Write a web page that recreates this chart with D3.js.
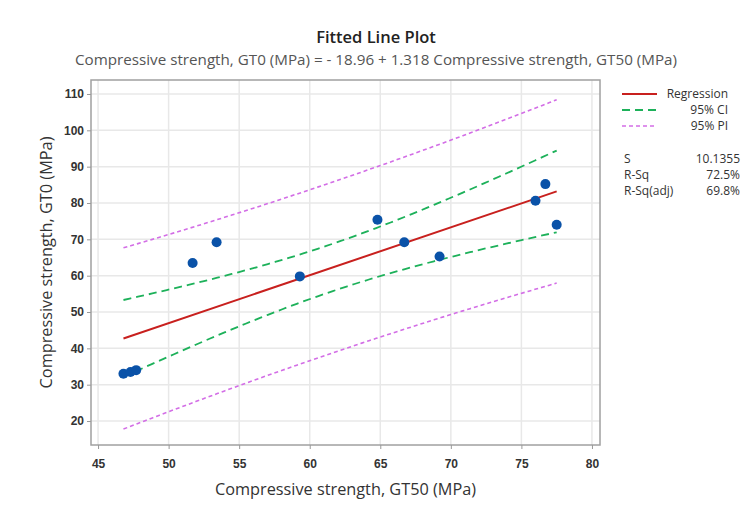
<!DOCTYPE html>
<meta charset="utf-8">
<style>
body { margin: 0; background: #fff; }
svg { font-family: "Open Sans", "Noto Sans", sans-serif; }
.grid line { stroke: #e8e8e8; stroke-width: 1.5px; }
.frame { fill: none; stroke: #a0a0a0; stroke-width: 1.5px; }
.tick text { fill: #333; font-size: 12px; font-weight: 600; }
.tick line { stroke: #999; }
.axis path { display: none; }
.title { font-size: 16.5px; font-weight: 600; fill: #222; }
.subtitle { font-size: 15.2px; fill: #555; }
.axlabel { font-size: 16.3px; fill: #333; }
.legend text { font-size: 12px; fill: #333; }
</style>
<body>
<script src="https://d3js.org/d3.v7.min.js"></script>
<script>

var width = 752,
    height = 507;

// data
var gt50 = [46.8, 47.3, 47.7, 51.7, 53.4, 59.3, 64.8, 66.7, 69.2, 76.0, 76.7, 77.5];
var gt0  = [33.0, 33.5, 34.0, 63.5, 69.2, 59.8, 75.4, 69.2, 65.3, 80.6, 85.2, 74.0];

var xTicks = [45, 50, 55, 60, 65, 70, 75, 80];
var yTicks = [20, 30, 40, 50, 60, 70, 80, 90, 100, 110];

// model values printed on the chart
var intercept = -18.96, slope = 1.318;
var statNames = ["S", "R-Sq", "R-Sq(adj)"];
var statValues = ["10.1355", "72.5%", "69.8%"];
var legendNames = ["Regression", "95% CI", "95% PI"];
var sErr = 10.1355, tCrit = 2.228;

var margin = {left: 91, right: 152, top: 80, bottom: 62};

var x = d3.scaleLinear().domain([44.5, 80.57]).range([margin.left, width - margin.right]);
var y = d3.scaleLinear().domain([13.4, 113.85]).range([height - margin.bottom, margin.top]);

var svg = d3.select("body").append("svg")
    .attr("width", width)
    .attr("height", height);

// grid
var grid = svg.append("g").attr("class", "grid");
grid.selectAll(".vx").data(xTicks).enter().append("line")
    .attr("x1", d => x(d)).attr("x2", d => x(d))
    .attr("y1", y.range()[1]).attr("y2", y.range()[0]);
grid.selectAll(".hy").data(yTicks).enter().append("line")
    .attr("y1", d => y(d)).attr("y2", d => y(d))
    .attr("x1", x.range()[0]).attr("x2", x.range()[1]);

svg.append("rect").attr("class", "frame")
    .attr("x", x.range()[0]).attr("y", y.range()[1])
    .attr("width", x.range()[1] - x.range()[0])
    .attr("height", y.range()[0] - y.range()[1]);

svg.append("g").attr("class", "axis")
    .attr("transform", "translate(0," + y.range()[0] + ")")
    .call(d3.axisBottom(x).tickValues(xTicks).tickSize(4).tickPadding(10));

svg.append("g").attr("class", "axis")
    .attr("transform", "translate(" + x.range()[0] + ",0)")
    .call(d3.axisLeft(y).tickValues(yTicks).tickSize(4).tickPadding(3));

// fit bands
var n = gt50.length,
    xbar = d3.mean(gt50),
    sxx = d3.sum(gt50, d => (d - xbar) * (d - xbar));
var xmin = d3.min(gt50), xmax = d3.max(gt50);
var xs = d3.range(0, 61).map(i => xmin + (xmax - xmin) * i / 60);
function fit(v) { return intercept + slope * v; }
function half(v, extra) { return tCrit * sErr * Math.sqrt(extra + 1 / n + (v - xbar) * (v - xbar) / sxx); }

var line = d3.line().x(d => x(d[0])).y(d => y(d[1]));

[[1, "#d36ee6", "4,3"], [-1, "#d36ee6", "4,3"]].forEach(function(b) {
  svg.append("path")
    .datum(xs.map(v => [v, fit(v) + b[0] * half(v, 1)]))
    .attr("d", line).attr("fill", "none")
    .attr("stroke", b[1]).attr("stroke-width", 1.6).attr("stroke-dasharray", b[2]);
});
[[1, "#1db15a", "8,5"], [-1, "#1db15a", "8,5"]].forEach(function(b) {
  svg.append("path")
    .datum(xs.map(v => [v, fit(v) + b[0] * half(v, 0)]))
    .attr("d", line).attr("fill", "none")
    .attr("stroke", b[1]).attr("stroke-width", 1.8).attr("stroke-dasharray", b[2]);
});

svg.append("path")
    .datum([[xmin, fit(xmin)], [xmax, fit(xmax)]])
    .attr("d", line).attr("fill", "none")
    .attr("stroke", "#c8201e").attr("stroke-width", 2);

svg.selectAll(".pt").data(gt50).enter().append("circle")
    .attr("cx", d => x(d))
    .attr("cy", (d, i) => y(gt0[i]))
    .attr("r", 5)
    .attr("fill", "#0a52a8");

// titles
svg.append("text").attr("class", "title")
    .attr("x", 376).attr("y", 43).attr("text-anchor", "middle")
    .text("Fitted Line Plot");
svg.append("text").attr("class", "subtitle")
    .attr("x", 376).attr("y", 65).attr("text-anchor", "middle")
    .text("Compressive strength, GT0 (MPa) = - 18.96 + 1.318 Compressive strength, GT50 (MPa)");
svg.append("text").attr("class", "axlabel")
    .attr("x", (x.range()[0] + x.range()[1]) / 2).attr("y", 495).attr("text-anchor", "middle")
    .text("Compressive strength, GT50 (MPa)");
svg.append("text").attr("class", "axlabel")
    .attr("transform", "translate(52," + ((y.range()[0] + y.range()[1]) / 2) + ") rotate(-90)")
    .attr("text-anchor", "middle")
    .text("Compressive strength, GT0 (MPa)");

// legend
var lg = svg.append("g").attr("class", "legend");
var lstyle = [["#c8201e", null, 2], ["#1db15a", "8,5", 1.8], ["#d36ee6", "4,3", 1.6]];
legendNames.forEach(function(name, i) {
  var yy = 98 + i * 16;
  lg.append("line").attr("x1", 622).attr("x2", 657).attr("y1", yy - 4).attr("y2", yy - 4)
    .attr("stroke", lstyle[i][0]).attr("stroke-width", lstyle[i][2])
    .attr("stroke-dasharray", lstyle[i][1]);
  lg.append("text").attr("x", 728).attr("y", yy).attr("text-anchor", "end").text(name);
});
statNames.forEach(function(name, i) {
  var yy = 163 + i * 16;
  lg.append("text").attr("x", 624).attr("y", yy).text(name);
  lg.append("text").attr("x", 740).attr("y", yy).attr("text-anchor", "end").text(statValues[i]);
});

</script>
